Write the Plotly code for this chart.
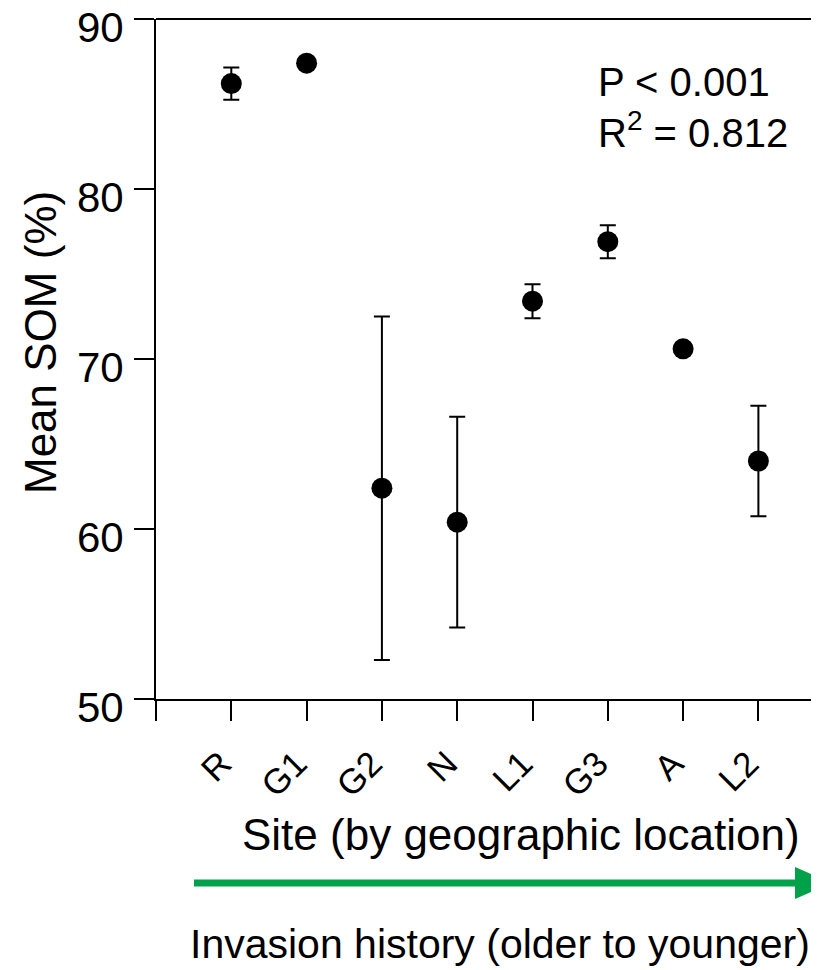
import plotly.graph_objects as go

# ---- data ----
sites = ["R", "G1", "G2", "N", "L1", "G3", "A", "L2"]
mean_som = [86.2, 87.4, 62.4, 60.4, 73.4, 76.9, 70.6, 64.0]
se_som = [0.95, 0.2, 10.1, 6.2, 1.0, 0.97, 0.3, 3.25]
y_ticks = [50, 60, 70, 80, 90]

FONT = "Liberation Sans, Arial, sans-serif"

# page has an 8px body margin; work in window pixels and convert
OFF = 8
W, H = 819 - OFF, 970 - OFF
L, T, B, R = 156, 19, 699, 819   # plot area in window pixels
pw, ph = R - L, B - T

def px(x):
    return (x - L) / pw

def py(y):
    return (B - y) / ph

xpos = list(range(1, len(sites) + 1))

fig = go.Figure()
fig.add_trace(go.Scatter(
    x=xpos, y=mean_som, mode="markers",
    marker=dict(size=21, color="black"),
    error_y=dict(type="data", array=se_som, visible=True,
                 color="black", thickness=2, width=8),
    showlegend=False, hoverinfo="skip",
))

fig.update_layout(
    width=W, height=H,
    margin=dict(l=L - OFF, r=0, t=T - OFF, b=(970 - B), pad=0, autoexpand=False),
    plot_bgcolor="white", paper_bgcolor="white",
    font=dict(family=FONT, color="black"),
    xaxis=dict(
        range=[0, pw / 75.3],
        tickmode="array",
        tickvals=[0] + xpos,
        ticktext=[""] + sites,
        tickangle=-45,
        tickfont=dict(size=35, family=FONT, color="black"),
        ticks="outside", ticklen=20, tickwidth=2, tickcolor="black",
        ticklabelstandoff=8,
        ticklabelshift=-10,
        ticklabeloverflow="allow",
        automargin=False,
        showline=True, linewidth=2, linecolor="black",
        showgrid=False, zeroline=False,
    ),
    yaxis=dict(
        range=[50, 90],
        tickmode="array", tickvals=y_ticks,
        tickfont=dict(size=42, family=FONT, color="black"),
        ticks="outside", ticklen=20, tickwidth=2, tickcolor="black",
        ticklabelstandoff=2,
        ticklabelshift=8,
        ticklabeloverflow="allow",
        automargin=False,
        showline=True, linewidth=2, linecolor="black",
        showgrid=False, zeroline=False,
    ),
)

# top border
fig.add_shape(type="line", xref="paper", yref="paper", x0=0, x1=1.05, y0=1, y1=1,
              line=dict(color="black", width=2))

# green arrow
ay = py(883)
fig.add_shape(type="line", xref="paper", yref="paper",
              x0=px(194), x1=px(800), y0=ay, y1=ay,
              line=dict(color="#00A14B", width=7))
fig.add_shape(type="path", xref="paper", yref="paper",
              path=f"M {px(795)},{py(867)} L {px(831)},{ay} L {px(795)},{py(899)} Z",
              fillcolor="#00A14B", line=dict(color="#00A14B", width=0))

def note(text, x, y, size, xanchor="center", angle=0):
    fig.add_annotation(text=text, xref="paper", yref="paper",
                       x=px(x), y=py(y), xanchor=xanchor, yanchor="middle",
                       textangle=angle, showarrow=False,
                       font=dict(size=size, family=FONT, color="black"))

note("Mean SOM (%)", 40, 343, 44, angle=-90)
note("Site (by geographic location)", 521, 834, 44)
note("Invasion history (older to younger)", 188, 944, 41, xanchor="left")
note("P < 0.001", 596, 82, 40, xanchor="left")
note("R<sup>2</sup> = 0.812", 596, 130, 40, xanchor="left")

fig.write_html("out.html")
